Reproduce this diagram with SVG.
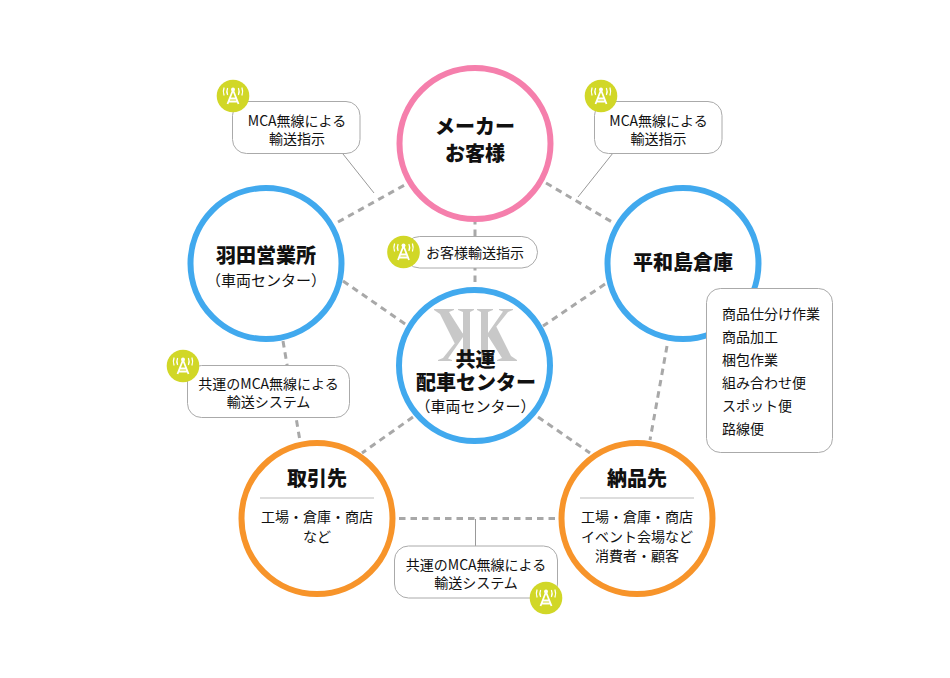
<svg xmlns="http://www.w3.org/2000/svg" width="950" height="678" viewBox="0 0 950 678">
<style>
text{font-family:"Noto Sans CJK JP","Noto Sans",sans-serif;fill:#111;text-anchor:middle}
.t{font-size:20px;font-weight:900}
.s{font-size:14px}
.p{font-size:15px}
.l{text-anchor:start}
.c{fill:#fff;stroke-width:6}
.b{fill:#fff;stroke:#aaa;stroke-width:1}
.d{fill:none;stroke:#a8a8a8;stroke-width:3;stroke-dasharray:6.500 5}
.h{fill:none;stroke:#999;stroke-width:1}
</style>
<defs>
<g id="ico">
<circle r="16.300" fill="#d1d727"/>
<path d="M0 -6L-5.500 8M0 -6L5.500 8M-3 2.500H3M-4.200 5.500H4.200" fill="none" stroke="#fff" stroke-width="1.800"/>
<circle cy="-6.500" r="2" fill="#fff"/>
<path d="M-5.500 -7.500Q-6.800 -4.500 -5.500 -1.500M-9 -8Q-10.300 -4.500 -9 -1M5.500 -7.500Q6.800 -4.500 5.500 -1.500M9 -8Q10.300 -4.500 9 -1" fill="none" stroke="#fff" stroke-width="1.300" stroke-linecap="round"/>
</g>
<path id="kk" fill="#c8c8c8" d="M477 309H493V310L488 312V358L493 360V361H477V360L481 358V312L477 310ZM488 333L503 311.500L499 310V309H513V310L508 312L488 337ZM488 336L496 326L511 356L517 360V361H497V360L502 358Z"/>
</defs>
<rect width="950" height="678" fill="#fff"/>
<g id="connectors">
<path class="d" d="M338 222L410 182"/>
<path class="d" d="M546 183L612 222"/>
<path class="d" d="M475 218V288"/>
<path class="d" d="M343 281L408 326"/>
<path class="d" d="M605 284L543 326"/>
<path class="d" d="M283 341L300 441"/>
<path class="d" d="M667 346L650 440"/>
<path class="d" d="M413 417L362 453"/>
<path class="d" d="M538 417L590 453"/>
<path class="d" d="M399 518.500H560"/>
<path class="h" d="M343 154L374 193"/>
<path class="h" d="M613 153L578 197"/>
<path class="h" d="M475.500 519V547"/>
</g>
<g id="maker"><circle class="c" cx="475" cy="143.500" r="75.500" stroke="#f57fac"/>
<text class="t" x="475" y="134">メーカー</text><text class="t" x="475" y="161">お客様</text></g>
<g id="haneda"><circle class="c" cx="266" cy="263.500" r="75.500" stroke="#41a9ee"/>
<text class="t" x="266" y="263">羽田営業所</text><text class="p" x="266" y="286">（車両センター）</text></g>
<g id="heiwajima"><circle class="c" cx="683" cy="263.500" r="75.500" stroke="#41a9ee"/>
<text class="t" x="683" y="270">平和島倉庫</text></g>
<g id="center"><circle class="c" cx="474.500" cy="365.500" r="75.500" stroke="#41a9ee"/>
<use href="#kk"/><use href="#kk" transform="rotate(180 475.500 335)"/>
<text class="t" x="475.500" y="367">共運</text><text class="t" x="476" y="390">配車センター</text><text class="p" x="475.500" y="412">（車両センター）</text></g>
<g id="torihiki"><circle class="c" cx="317" cy="518.500" r="75.500" stroke="#f7942a"/>
<text class="t" x="317" y="486">取引先</text><path d="M260 498H374" stroke="#bbb" fill="none"/>
<text class="s" x="317" y="522">工場・倉庫・商店</text><text class="s" x="317" y="542">など</text></g>
<g id="noubin"><circle class="c" cx="637" cy="518.500" r="75.500" stroke="#f7942a"/>
<text class="t" x="637" y="486">納品先</text><path d="M580 498H694" stroke="#bbb" fill="none"/>
<text class="s" x="637" y="522">工場・倉庫・商店</text><text class="s" x="637" y="542">イベント会場など</text><text class="s" x="637" y="561">消費者・顧客</text></g>
<g id="note-maker-left"><rect class="b" x="232.500" y="101.500" width="127.500" height="52" rx="14"/>
<text class="s" x="297" y="126">MCA無線による</text><text class="s" x="297" y="144">輸送指示</text><use href="#ico" x="233" y="96"/></g>
<g id="note-maker-right"><rect class="b" x="594.500" y="101.500" width="127.500" height="52" rx="14"/>
<text class="s" x="658.500" y="126">MCA無線による</text><text class="s" x="658.500" y="144">輸送指示</text><use href="#ico" x="601" y="96"/></g>
<g id="note-order"><rect class="b" x="404" y="236.500" width="133.500" height="31.500" rx="15.700"/>
<text class="s" x="475" y="258">お客様輸送指示</text><use href="#ico" x="403.500" y="252"/></g>
<g id="note-work"><rect class="b" x="706.500" y="288.500" width="126" height="164" rx="14"/>
<text class="s l" x="722" y="319">商品仕分け作業</text><text class="s l" x="722" y="342">商品加工</text><text class="s l" x="722" y="365">梱包作業</text><text class="s l" x="722" y="388">組み合わせ便</text><text class="s l" x="722" y="411">スポット便</text><text class="s l" x="722" y="434">路線便</text></g>
<g id="note-system-left"><rect class="b" x="187.500" y="365.500" width="162" height="52" rx="14"/>
<text class="s" x="268.500" y="389">共運のMCA無線による</text><text class="s" x="268.500" y="407">輸送システム</text><use href="#ico" x="183" y="366"/></g>
<g id="note-system-bottom"><rect class="b" x="394.500" y="546" width="163" height="52" rx="14"/>
<text class="s" x="476" y="570">共運のMCA無線による</text><text class="s" x="476" y="588">輸送システム</text><use href="#ico" x="546" y="598"/></g>
</svg>
